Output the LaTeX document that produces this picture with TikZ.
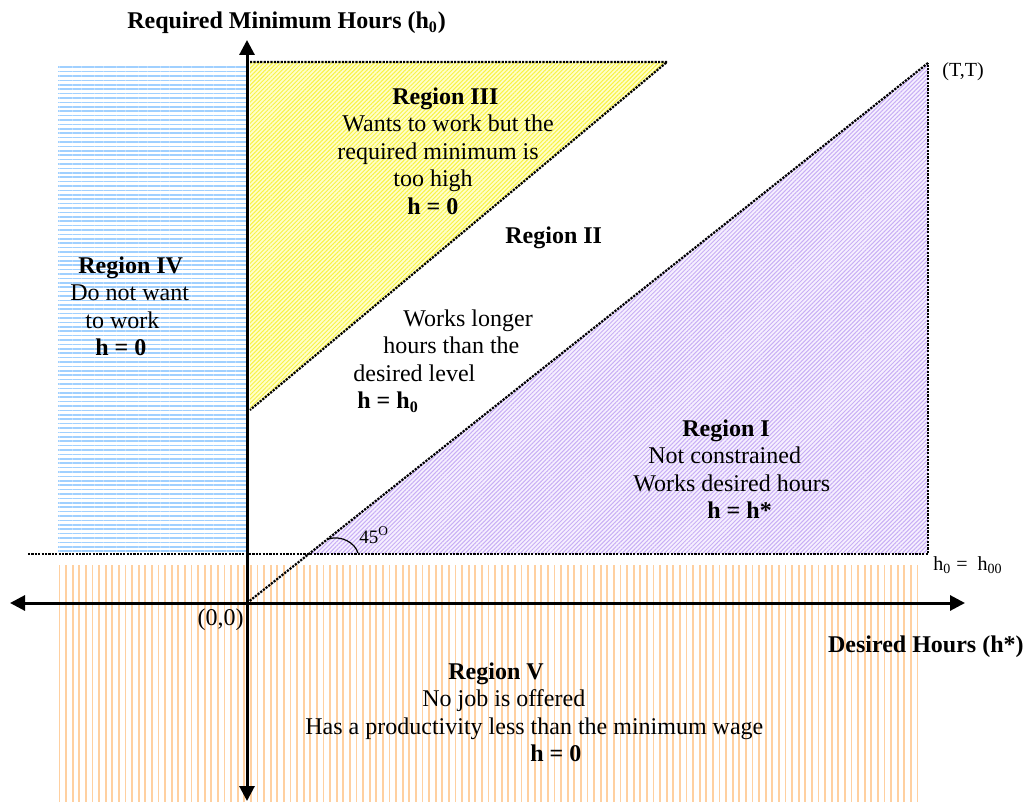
\documentclass[tikz,border=0pt]{standalone}
\usepackage{fontspec}
\setmainfont{Liberation Serif}
\definecolor{iceblue}{RGB}{160, 208, 255}
\definecolor{peach}{RGB}{255, 208, 160}
\definecolor{lemon}{RGB}{248, 242, 70}
\definecolor{palelemon}{RGB}{255, 255, 200}
\definecolor{lilac}{RGB}{200, 175, 245}
\definecolor{palelilac}{RGB}{246, 240, 255}
\usetikzlibrary{arrows.meta, patterns.meta}
\tikzset{
	axis/.style={line width=1.5pt, {Triangle[length=7.5pt, width=7.5pt]}-{Triangle[length=7.5pt, width=7.5pt]}},
	border/.style={line width=1.1pt, dash pattern=on 1.1pt off 0.6pt},
	regiontext/.style={font=\fontsize{12}{13.8}\selectfont, inner sep=0pt, align=left, anchor=north west},
	axistext/.style={font=\fontsize{12}{13.8}\selectfont\bfseries, inner sep=0pt},
	smalltext/.style={font=\fontsize{10}{12}\selectfont, inner sep=0pt},
	blueband/.style={pattern={Lines[angle=0, distance=2.2pt, line width=0.8pt]}, pattern color=iceblue},
	peachband/.style={pattern={Lines[angle=90, distance=3.3pt, line width=0.9pt]}, pattern color=peach},
	lemonband/.style={preaction={fill=palelemon}, pattern={Lines[angle=45, distance=1.5pt, line width=0.5pt]}, pattern color=lemon},
	lilacband/.style={preaction={fill=palelilac}, pattern={Lines[angle=45, distance=1.5pt, line width=0.5pt]}, pattern color=lilac},
}

\begin{document}
\begin{tikzpicture}[x=0.5pt, y=-0.5pt]
	\useasboundingbox (0,0) rectangle (1028,802);
	\coordinate (O) at (247,603);
	\coordinate (TT) at (928,63);
	\coordinate (kink) at (309,554);
	\coordinate (floorL) at (28,554);
	\coordinate (floorR) at (928,554);
	\coordinate (capL) at (250,62);
	\coordinate (capR) at (667,62);
	\coordinate (capB) at (250,410);
	% shaded regions
	\fill[blueband] (58,66) rectangle (246,553);
	\fill[peachband] (58,565) rectangle (922,802);
	\fill[lemonband] (capB) -- (capL) -- (capR) -- cycle;
	\fill[lilacband] (kink) -- (TT) -- (floorR) -- cycle;
	% boundaries
	\draw[border] (floorL) -- (floorR) -- (TT);
	\draw[border] (O) -- (TT);
	\draw[border] (capL) -- (capR) -- (capB);
	\draw[line width=0.6pt] (328,539) .. controls (342,535) and (355,543) .. (358,553);
	% axes
	\draw[axis] (247,801) -- (247,40);
	\draw[axis] (10,603) -- (965,603);
	\node[axistext, anchor=base west] (yname) at (127,29) {Required Minimum Hours (h\textsubscript{0})};
	\node[axistext, anchor=base east] (xname) at (1024,652) {Desired Hours (h*)};
	\node[font=\fontsize{12}{13.8}\selectfont, inner sep=0pt, anchor=base east] (origin) at (244,625) {(0,0)};
	\node[smalltext, anchor=base west] (corner) at (942,77) {(T,T)};
	\node[smalltext, anchor=base west] (floor) at (933,570) {h\textsubscript{0}~=~~h\textsubscript{00}};
	\node[smalltext, font=\fontsize{9.5}{11}\selectfont, anchor=base west] (angle) at (359,543) {45\textsuperscript{O}};
	% region texts
	\node[regiontext] (r3) at (337,87) {\hspace*{27.5pt}\textbf{Region III}\\
		\hspace*{2.5pt}Wants to work but the\\
		required minimum is\\
		\hspace*{28pt}too high\\
		\hspace*{35pt}\textbf{h = 0}};
	\node[axistext, anchor=base west] (r2head) at (505,244) {Region II};
	\node[regiontext] (r2) at (353,309) {\hspace*{25pt}Works longer\\
		\hspace*{15pt}hours than the\\
		desired level\\
		\hspace*{2pt}\textbf{h = h\textsubscript{0}}};
	\node[regiontext] (r4) at (70,256) {\hspace*{4pt}\textbf{Region IV}\\
		Do not want\\
		\hspace*{7.5pt}to work\\
		\hspace*{12.5pt}\textbf{h = 0}};
	\node[regiontext] (r1) at (633,419) {\hspace*{24.5pt}\textbf{Region I}\\
		\hspace*{7.5pt}Not constrained\\
		Works desired hours\\
		\hspace*{37pt}\textbf{h = h*}};
	\node[regiontext] (r5) at (305,662) {\hspace*{71.5pt}\textbf{Region V}\\
		\hspace*{58.5pt}No job is offered\\
		Has a productivity less than the minimum wage\\
		\hspace*{112.5pt}\textbf{h = 0}};
\end{tikzpicture}
\end{document}
